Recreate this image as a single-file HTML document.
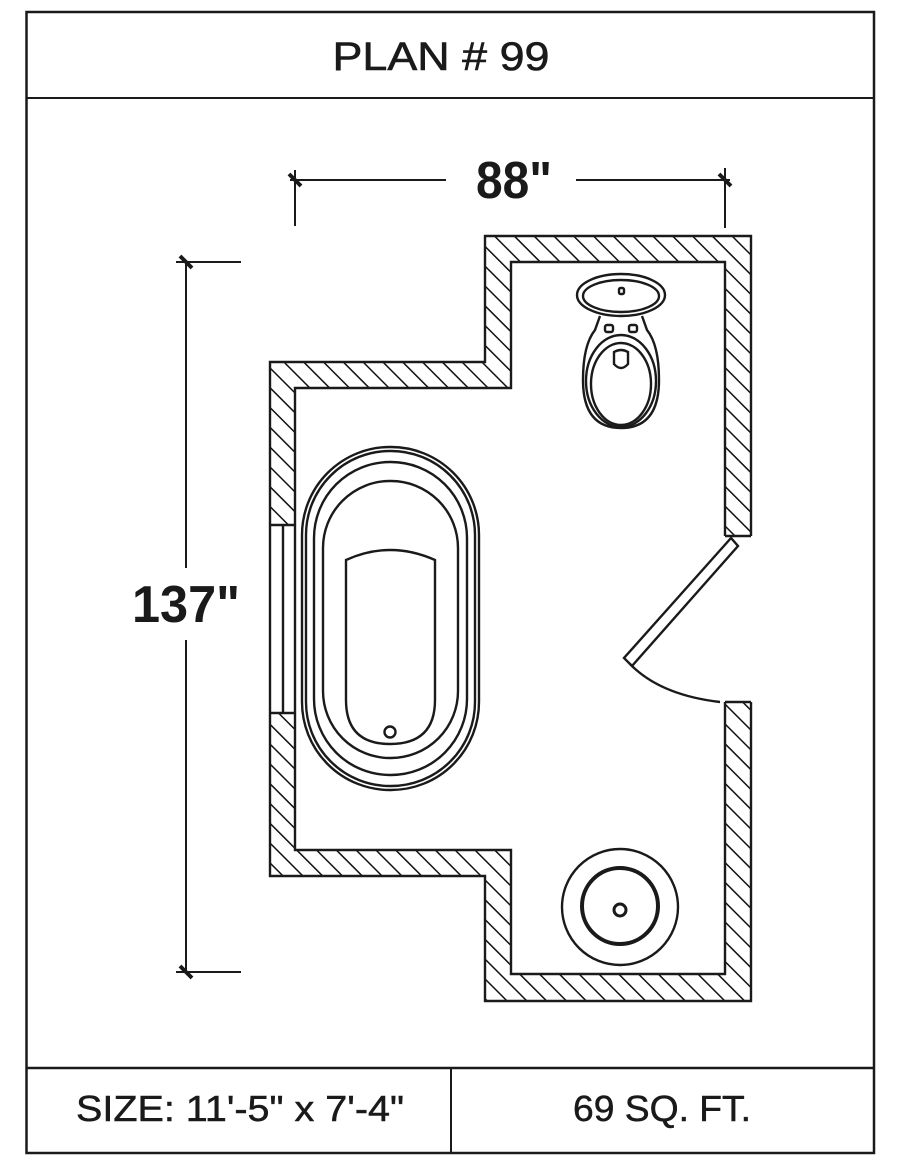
<!DOCTYPE html>
<html><head><meta charset="utf-8"><style>
html,body{margin:0;padding:0;background:#fff}
svg{display:block}
text{font-family:"Liberation Sans",Arial,sans-serif;fill:#1a1a1a}
</style></head><body>
<svg width="900" height="1165" viewBox="0 0 900 1165" xmlns="http://www.w3.org/2000/svg">
<defs>
<pattern id="h" patternUnits="userSpaceOnUse" width="14" height="14" patternTransform="rotate(-45)">
<rect width="14" height="14" fill="#fff"/>
<line x1="0" y1="0" x2="0" y2="14" stroke="#111" stroke-width="3"/>
</pattern>
</defs>
<g fill="none" stroke="#1a1a1a">
<rect x="26.5" y="12" width="847.5" height="1141" stroke-width="2.5"/>
<line x1="26" y1="98" x2="874" y2="98" stroke-width="2"/>
<line x1="26" y1="1068" x2="874" y2="1068" stroke-width="2.5"/>
<line x1="451" y1="1068" x2="451" y2="1153" stroke-width="2"/>
</g>
<text x="441" y="70" font-size="40" text-anchor="middle" textLength="217" lengthAdjust="spacingAndGlyphs" stroke="#1a1a1a" stroke-width="0.6">PLAN # 99</text>
<text x="514" y="198" font-size="52" text-anchor="middle" font-weight="bold" textLength="76" lengthAdjust="spacingAndGlyphs">88"</text>
<text x="186" y="622" font-size="52" text-anchor="middle" font-weight="bold" textLength="108" lengthAdjust="spacingAndGlyphs">137"</text>
<text x="240" y="1121" font-size="36" text-anchor="middle" textLength="328" lengthAdjust="spacingAndGlyphs" stroke="#1a1a1a" stroke-width="0.5">SIZE: 11'-5" x 7'-4"</text>
<text x="662" y="1121" font-size="36" text-anchor="middle" textLength="178" lengthAdjust="spacingAndGlyphs" stroke="#1a1a1a" stroke-width="0.5">69 SQ. FT.</text>

<g stroke="#1a1a1a" stroke-width="2" fill="none">
<line x1="290" y1="180" x2="446" y2="180"/>
<line x1="576" y1="180" x2="730" y2="180"/>
<line x1="295" y1="170" x2="295" y2="226"/>
<line x1="725" y1="168" x2="725" y2="228"/>
<line x1="289" y1="174" x2="301" y2="186" stroke-width="4"/>
<line x1="719" y1="174" x2="731" y2="186" stroke-width="4"/>
<line x1="186" y1="262" x2="186" y2="568"/>
<line x1="186" y1="640" x2="186" y2="973"/>
<line x1="176" y1="262" x2="241" y2="262"/>
<line x1="176" y1="972" x2="241" y2="972"/>
<line x1="180" y1="256" x2="192" y2="268" stroke-width="4"/>
<line x1="180" y1="966" x2="192" y2="978" stroke-width="4"/>
</g>

<path fill-rule="evenodd" fill="url(#h)" stroke="none"
d="M485,236 H751 V1001 H485 V876 H270 V362 H485 Z M511,262 H725 V974 H511 V850 H295 V388 H511 Z"/>
<rect x="724" y="536" width="30" height="166" fill="#fff"/>
<rect x="268" y="525" width="29" height="188" fill="#fff"/>
<g fill="none" stroke="#1a1a1a" stroke-width="2.4">
<path d="M751,536 V236 H485 V362 H270 V525"/>
<path d="M270,713 V876 H485 V1001 H751 V702"/>
<path d="M725,536 V262 H511 V388 H295 V525"/>
<path d="M295,713 V850 H511 V974 H725 V702"/>
<line x1="725" y1="536" x2="751" y2="536"/>
<line x1="725" y1="702" x2="751" y2="702"/>
<line x1="270" y1="525" x2="295" y2="525"/>
<line x1="270" y1="713" x2="295" y2="713"/>
<line x1="270" y1="525" x2="270" y2="713"/>
<line x1="283" y1="525" x2="283" y2="713"/>
<line x1="295" y1="525" x2="295" y2="713"/>
<path d="M731,538 L624,658 L632,666 L738,546 Z"/>
<path d="M630,664 Q660,695 720,702"/>
<rect x="302" y="447" width="177" height="343" rx="88" ry="88"/>
<rect x="306" y="451" width="169" height="335" rx="84" ry="84"/>
<rect x="314" y="462" width="153" height="313" rx="76" ry="76"/>
<rect x="323" y="481" width="135" height="277" rx="67" ry="67"/>
<path d="M346,560 Q390,540 435,560 V700 Q435,744 390,744 Q346,744 346,700 Z"/>
<circle cx="390" cy="732" r="5.5"/>
<ellipse cx="621" cy="295" rx="44" ry="21"/>
<ellipse cx="621" cy="296" rx="38" ry="16"/>
<path d="M600,316 L595,330 Q583,345 583,380 Q583,428 621,428 Q659,428 659,380 Q659,345 647,330 L642,316"/>
<ellipse cx="621" cy="381" rx="35" ry="46"/>
<ellipse cx="621" cy="384" rx="30" ry="41"/>
<rect x="605" y="325" width="8" height="7" rx="2"/>
<rect x="629" y="325" width="8" height="7" rx="2"/>
<path d="M614,352 Q621,348 628,352 V364 Q621,372 614,364 Z"/>
<rect x="619" y="288" width="5" height="6" rx="1.5"/>
<circle cx="620" cy="907" r="58"/>
<circle cx="620" cy="906" r="38" stroke-width="4"/>
<circle cx="620" cy="910" r="6" stroke-width="3"/>
</g>
</svg>
</body></html>
